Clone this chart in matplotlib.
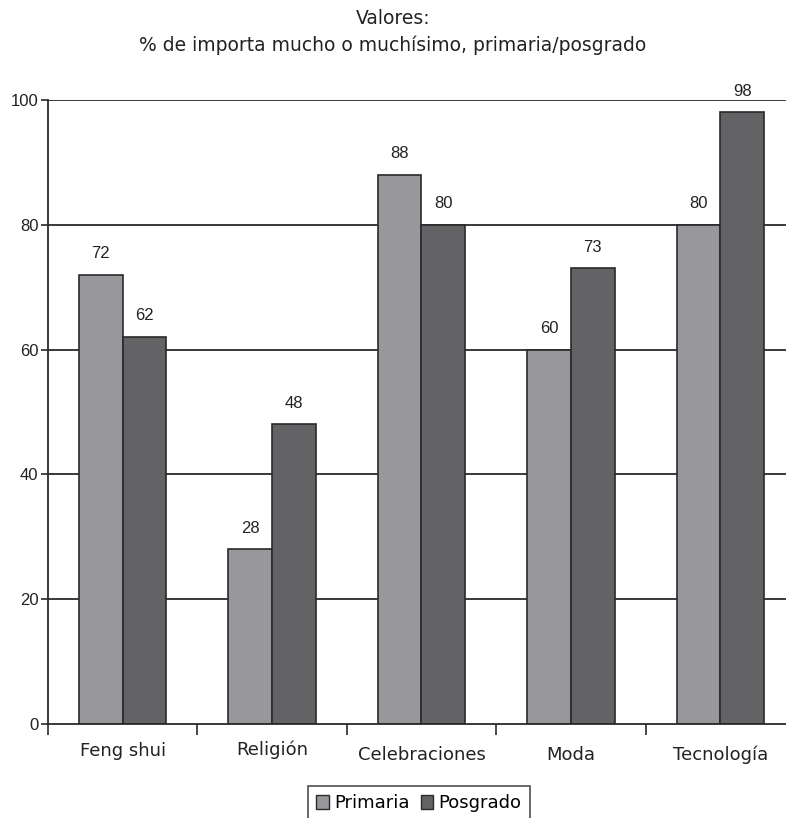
import matplotlib
matplotlib.use("Agg")
import matplotlib.pyplot as plt
import numpy as np
from matplotlib.patches import Patch

categories = ["Feng shui", "Religión", "Celebraciones", "Moda", "Tecnología"]
primaria = [72, 28, 88, 60, 80]
posgrado = [62, 48, 80, 73, 98]
yticks = [0, 20, 40, 60, 80, 100]

W, H = 786, 818
fig = plt.figure(figsize=(W / 100, H / 100), dpi=100)
left_px, right_px, top_px, bot_px = 48, 786, 100, 724
ax = fig.add_axes([left_px / W, 1 - bot_px / H, (right_px - left_px) / W, (bot_px - top_px) / H])

step = 149.4
xmax = -0.5 + (right_px - left_px) / step

c_prim = "#98989c"
c_pos = "#636365"
bw = 0.292
x = np.arange(len(categories))

ax.set_axisbelow(True)
for v in yticks[1:]:
    ax.axhline(v, color="#2a2a2a", lw=1.3, zorder=0)

ax.bar(x - bw / 2, primaria, bw, color=c_prim, edgecolor="#2a2a2a", lw=1.2, zorder=2)
ax.bar(x + bw / 2, posgrado, bw, color=c_pos, edgecolor="#2a2a2a", lw=1.2, zorder=2)

lab_font = dict(family="Liberation Sans", fontsize=12, color="#222222")
for xi, v in zip(x - bw / 2, primaria):
    ax.text(xi, v + 2.2, str(v), ha="center", va="bottom", **lab_font)
for xi, v in zip(x + bw / 2, posgrado):
    ax.text(xi, v + 2.2, str(v), ha="center", va="bottom", **lab_font)

for s in ["top", "right"]:
    ax.spines[s].set_visible(False)
for s in ["left", "bottom"]:
    ax.spines[s].set_color("#2a2a2a")
    ax.spines[s].set_linewidth(1.3)

ax.set_yticks(yticks)
ax.set_yticklabels([str(v) for v in yticks], family="Liberation Sans", fontsize=12, color="#222222")
ax.tick_params(axis="y", length=5, width=1.2, color="#2a2a2a", pad=2)

ax.set_xticks(np.arange(len(categories) + 1) - 0.5)
ax.set_xticklabels([])
ax.tick_params(axis="x", length=8, width=1.2, color="#2a2a2a")
ax.set_xlim(-0.5, xmax)
ax.set_ylim(0, 100)

label_y = [-2.9, -2.6, -3.5, -3.5, -3.5]
for i, (c, yy) in enumerate(zip(categories, label_y)):
    ax.text(i, yy, c, ha="center", va="top", fontsize=13,
            family="DejaVu Sans", color="#222222")

fig.text(0.5, 1 - 18 / H, "Valores:", ha="center", va="center", fontsize=13.5,
         family="DejaVu Sans", color="#222222")
fig.text(0.5, 1 - 45 / H, "% de importa mucho o muchísimo, primaria/posgrado", ha="center", va="center",
         fontsize=13.5, family="DejaVu Sans", color="#222222")

handles = [Patch(facecolor=c_prim, edgecolor="#2a2a2a", label="Primaria"),
           Patch(facecolor=c_pos, edgecolor="#2a2a2a", label="Posgrado")]
leg = fig.legend(handles=handles, loc="upper center", bbox_to_anchor=(419 / W, 1 - 786 / H), ncol=2,
                 frameon=True, fancybox=False, edgecolor="#222222",
                 handlelength=0.7, handleheight=0.8, handletextpad=0.3, columnspacing=0.6,
                 borderpad=0.45, borderaxespad=0,
                 prop=dict(family="DejaVu Sans", size=13))
leg.get_frame().set_linewidth(1.2)

fig.savefig("out.png", dpi=100)
